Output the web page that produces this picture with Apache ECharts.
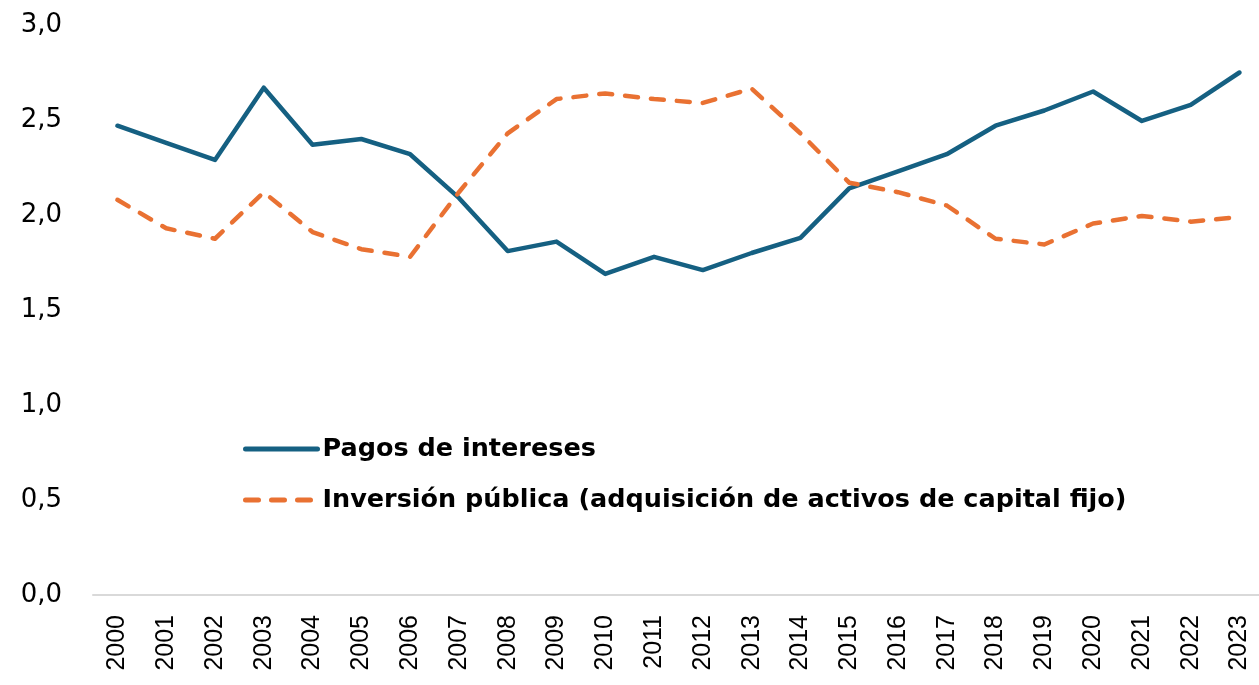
<!DOCTYPE html>
<html>
<head>
<meta charset="utf-8">
<script src="https://cdn.jsdelivr.net/npm/echarts@6/dist/echarts.min.js"></script>
<style>
  html, body { margin: 0; padding: 0; background: #fff; }
  #chart { width: 1259px; height: 685px; }
</style>
</head>
<body>
<div id="chart"></div>
<script>
const years = ["2000", "2001", "2002", "2003", "2004", "2005", "2006", "2007", "2008", "2009", "2010", "2011",
  "2012", "2013", "2014", "2015", "2016", "2017", "2018", "2019", "2020", "2021", "2022", "2023"];

const pagosIntereses = [2.47, 2.38, 2.29, 2.67, 2.37, 2.40, 2.32, 2.09, 1.81, 1.86, 1.69, 1.78,
  1.71, 1.80, 1.88, 2.14, 2.23, 2.32, 2.47, 2.55, 2.65, 2.495, 2.58, 2.75];

const inversionPublica = [2.08, 1.93, 1.875, 2.12, 1.91, 1.82, 1.78, 2.12, 2.43, 2.61, 2.64, 2.61,
  2.59, 2.665, 2.43, 2.17, 2.12, 2.05, 1.875, 1.845, 1.955, 1.995, 1.965, 1.99];

const seriesNames = ["Pagos de intereses", "Inversión pública (adquisición de activos de capital fijo)"];

// the source picture is cut on the right, so the last year band is only partly shown
const yearIdx = years.map((_, i) => i);
const toPoints = (vals) => vals.map((v, i) => [i, v]);

const chart = echarts.init(document.getElementById("chart"));

chart.setOption({
  animation: false,
  grid: { left: 93, right: 0, top: 25, bottom: 90, containLabel: false },
  legend: {
    orient: "vertical",
    left: 243,
    top: 434,
    padding: 0,
    itemWidth: 72,
    itemHeight: 14,
    itemGap: 21,
    lineStyle: { width: 5, cap: "round" },
    itemStyle: { color: "transparent", borderWidth: 0, opacity: 0 },
    textStyle: {
      fontFamily: "DejaVu Sans",
      fontWeight: "bold",
      fontSize: 25.5,
      color: "#000",
      lineHeight: 30,
    },
    data: seriesNames,
  },
  xAxis: {
    type: "value",
    min: -0.5,
    max: 23.4,
    splitLine: { show: false },
    axisLine: { onZero: false, lineStyle: { color: "#d9d9d9", width: 2 } },
    axisTick: { show: false },
    axisLabel: {
      customValues: yearIdx,
      formatter: (v) => years[Math.round(v)],
      rotate: 90,
      margin: 20,
      fontFamily: "Liberation Sans",
      fontSize: 25,
      color: "#000",
    },
  },
  yAxis: {
    type: "value",
    min: 0,
    max: 3,
    interval: 0.5,
    splitLine: { show: false },
    axisLine: { show: false },
    axisTick: { show: false },
    axisLabel: {
      margin: 31,
      fontFamily: "DejaVu Sans",
      fontSize: 26,
      color: "#000",
      formatter: (v) => v.toFixed(1).replace(".", ","),
    },
  },
  series: [
    {
      name: seriesNames[0],
      type: "line",
      data: toPoints(pagosIntereses),
      symbol: "none",
      lineStyle: { color: "#156082", width: 4.5, cap: "round", join: "round" },
      itemStyle: { color: "#156082" },
    },
    {
      name: seriesNames[1],
      type: "line",
      data: toPoints(inversionPublica),
      symbol: "none",
      lineStyle: { color: "#E97132", width: 4.5, type: [13, 13], cap: "round", join: "round" },
      itemStyle: { color: "#E97132" },
    },
  ],
});
</script>
</body>
</html>
